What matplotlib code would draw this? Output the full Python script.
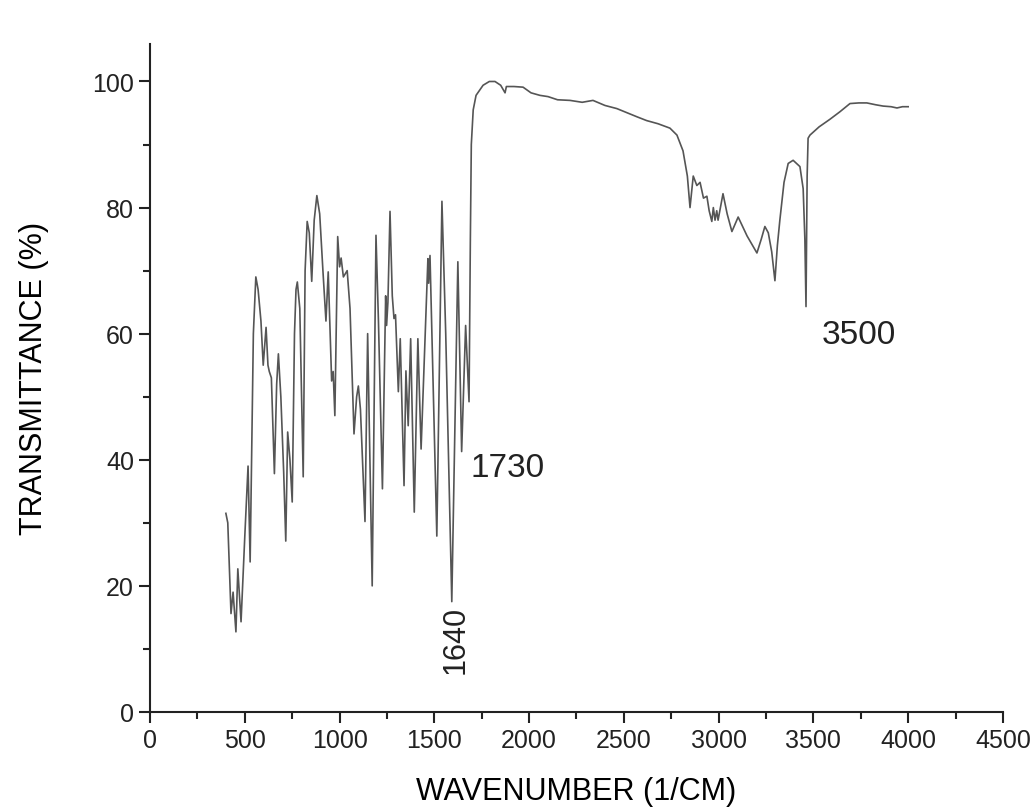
import matplotlib
matplotlib.use("Agg")
import matplotlib.pyplot as plt
from matplotlib.ticker import MultipleLocator

# ── Spectrum (wavenumber 1/cm, transmittance %) ───────────────────────────────

wavenumber = [
    400, 410, 427, 438, 453, 463, 480, 500, 517, 528,
    545, 558, 570, 585, 597, 612, 622, 629, 640, 656,
    668, 677, 690, 705, 716, 726, 738, 750, 762, 770,
    777, 790, 808, 818, 829, 840, 853, 866, 880, 895,
    912, 928, 940, 950, 958, 966, 975, 990, 1000, 1008,
    1020, 1040, 1055, 1076, 1090, 1099, 1110, 1134, 1148, 1160,
    1172, 1192, 1205, 1226, 1243, 1248, 1255, 1266, 1278, 1287,
    1295, 1310, 1320, 1340, 1350, 1362, 1375, 1394, 1413, 1430,
    1466, 1470, 1477, 1495, 1513, 1540, 1560, 1592, 1624, 1644,
    1665, 1683, 1690, 1695, 1705, 1720, 1757, 1790, 1820, 1850,
    1873, 1880, 1920, 1968, 2010, 2057, 2100, 2150, 2216, 2280,
    2337, 2400, 2463, 2520, 2569, 2620, 2680, 2743, 2780, 2812,
    2835, 2849, 2866, 2885, 2902, 2920, 2938, 2950, 2964, 2972,
    2981, 2990, 2997, 3023, 3045, 3070, 3103, 3150, 3202, 3225,
    3244, 3262, 3280, 3297, 3310, 3323, 3345, 3367, 3393, 3429,
    3446, 3455, 3461, 3467, 3472, 3482, 3530, 3587, 3640, 3693,
    3740, 3782, 3830, 3868, 3910, 3941, 3970, 4000,
]

transmittance = [
    31.5, 30.0, 15.6, 19.0, 12.7, 22.7, 14.3, 28.0, 39.0, 23.8,
    60.0, 69.0, 67.0, 62.0, 55.0, 61.0, 55.0, 54.0, 53.0, 37.8,
    52.0, 56.8, 50.0, 38.0, 27.1, 44.4, 40.0, 33.3, 60.0, 67.0,
    68.2, 64.0, 37.3, 70.0, 77.8, 76.0, 68.3, 78.0, 81.9, 79.0,
    70.0, 62.0, 69.8, 60.0, 52.5, 54.0, 47.0, 75.4, 70.6, 72.0,
    69.0, 70.0, 64.0, 44.1, 50.0, 51.7, 48.0, 30.2, 60.0, 40.0,
    20.0, 75.6, 62.0, 35.4, 66.0, 61.3, 65.0, 79.4, 66.0, 62.4,
    63.0, 50.8, 59.2, 35.9, 54.1, 45.4, 59.2, 31.7, 59.2, 41.7,
    71.9, 68.0, 72.4, 50.0, 27.9, 81.0, 60.0, 17.5, 71.4, 41.3,
    61.3, 49.2, 75.0, 90.0, 95.5, 97.8, 99.4, 100.0, 100.0, 99.4,
    98.2, 99.2, 99.2, 99.1, 98.2, 97.8, 97.6, 97.1, 97.0, 96.7,
    97.0, 96.2, 95.7, 95.0, 94.4, 93.8, 93.3, 92.6, 91.5, 89.0,
    85.0, 80.0, 85.0, 83.5, 84.0, 81.5, 81.8, 79.5, 77.8, 80.0,
    78.0, 79.5, 78.0, 82.2, 79.0, 76.2, 78.5, 75.5, 72.8, 75.0,
    77.0, 76.0, 73.0, 68.4, 74.0, 78.0, 84.0, 87.0, 87.5, 86.5,
    83.0, 75.0, 64.3, 85.0, 91.0, 91.5, 92.8, 94.0, 95.2, 96.5,
    96.6, 96.6, 96.3, 96.1, 96.0, 95.8, 96.0, 96.0,
]

# peak labels: text, x, y, rotation
peak_labels = ["1730", "3500", "1640"]
peak_x = [1690, 3545, 1610]
peak_y = [38.8, 59.8, 11.5]
peak_rot = [0, 0, 90]

plt.rcParams.update({
    "font.family": ["Liberation Sans", "DejaVu Sans"],
    "font.size": 16,
})

fig = plt.figure(figsize=(10.35, 8.12), dpi=100)
ax = fig.add_axes([0.145, 0.122, 0.824, 0.823])

ax.plot(wavenumber, transmittance, color="#555555", linewidth=1.2)

for txt, x, y, rot in zip(peak_labels, peak_x, peak_y, peak_rot):
    if rot:
        ax.text(x, y, txt, rotation=rot, fontsize=22, ha="center", va="center",
                color="#222222")
    else:
        ax.text(x, y, txt, fontsize=24, ha="left", va="center", color="#222222")

ax.set_xlim(0, 4500)
ax.set_ylim(0, 106)
ax.xaxis.set_major_locator(MultipleLocator(500))
ax.xaxis.set_minor_locator(MultipleLocator(250))
ax.yaxis.set_major_locator(MultipleLocator(20))
ax.yaxis.set_minor_locator(MultipleLocator(10))

for side in ("top", "right"):
    ax.spines[side].set_visible(False)
for side in ("left", "bottom"):
    ax.spines[side].set_linewidth(1.5)
    ax.spines[side].set_color("#222222")

ax.tick_params(which="major", direction="out", length=8, width=1.5,
               labelsize=18, colors="#222222")
ax.tick_params(which="minor", direction="out", length=5, width=1.5,
               colors="#222222")

ax.set_xlabel("WAVENUMBER (1/CM)", fontsize=22, labelpad=17)
ax.set_ylabel("TRANSMITTANCE (%)", fontsize=22, labelpad=31)

fig.savefig("out.png", dpi=100)
